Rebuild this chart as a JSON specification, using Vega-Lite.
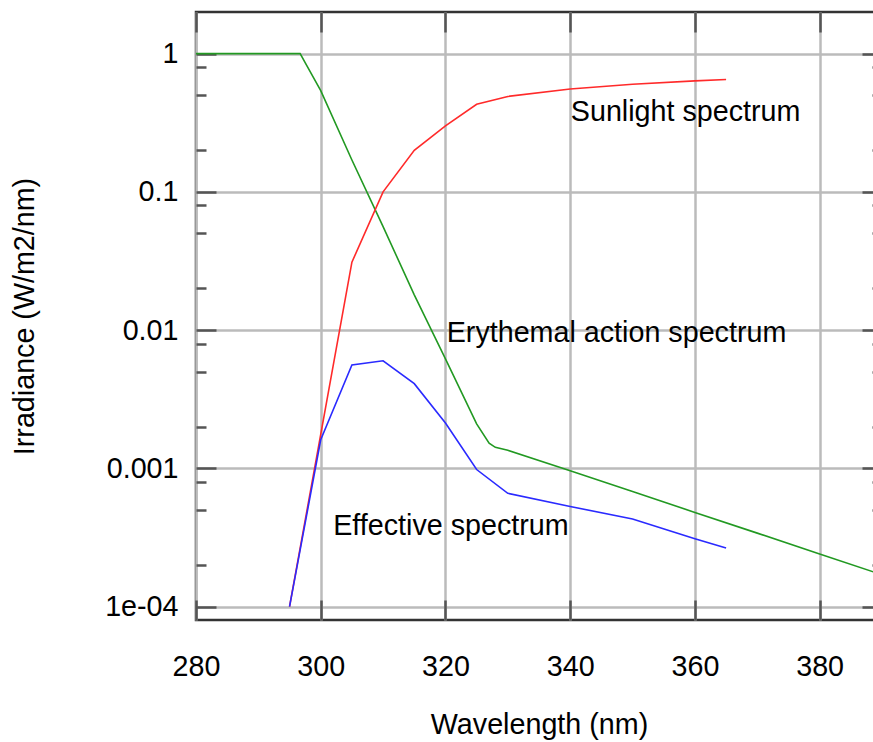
{
  "$schema": "https://vega.github.io/schema/vega-lite/v6.json",
  "width": 686,
  "height": 608,
  "autosize": {"type": "none"},
  "padding": {"left": 196, "top": 12, "right": -9, "bottom": 122},
  "background": "white",
  "config": {
    "view": {"stroke": "#333333", "strokeWidth": 2.5},
    "font": "Liberation Sans",
    "axis": {
      "labelFont": "Liberation Sans",
      "titleFont": "Liberation Sans",
      "labelFontSize": 28.7,
      "titleFontSize": 28.7,
      "labelColor": "#000000",
      "titleColor": "#000000",
      "titleFontWeight": "normal",
      "gridColor": "#bbbbbb",
      "gridWidth": 2.5,
      "gridOpacity": 1,
      "tickColor": "#555555",
      "tickWidth": 2.5,
      "domain": false,
      "labelFlush": false,
      "labelOverlap": false
    }
  },
  "datasets": {
    "curves": [
      {"series": "Erythemal", "wl": 280, "val": 1},
      {"series": "Erythemal", "wl": 296.7, "val": 1},
      {"series": "Erythemal", "wl": 297.5, "val": 0.86},
      {"series": "Erythemal", "wl": 300, "val": 0.54},
      {"series": "Erythemal", "wl": 305, "val": 0.17},
      {"series": "Erythemal", "wl": 310, "val": 0.056},
      {"series": "Erythemal", "wl": 315, "val": 0.018},
      {"series": "Erythemal", "wl": 320, "val": 0.0062},
      {"series": "Erythemal", "wl": 325, "val": 0.0021},
      {"series": "Erythemal", "wl": 327, "val": 0.00152},
      {"series": "Erythemal", "wl": 328, "val": 0.00142},
      {"series": "Erythemal", "wl": 330, "val": 0.00135},
      {"series": "Erythemal", "wl": 340, "val": 0.00096},
      {"series": "Erythemal", "wl": 350, "val": 0.00068},
      {"series": "Erythemal", "wl": 360, "val": 0.00048},
      {"series": "Erythemal", "wl": 370, "val": 0.00034},
      {"series": "Erythemal", "wl": 380, "val": 0.00024},
      {"series": "Erythemal", "wl": 390, "val": 0.00017},
      {"series": "Sunlight", "wl": 295, "val": 0.0001},
      {"series": "Sunlight", "wl": 300, "val": 0.00176},
      {"series": "Sunlight", "wl": 305, "val": 0.031},
      {"series": "Sunlight", "wl": 310, "val": 0.1},
      {"series": "Sunlight", "wl": 315, "val": 0.2},
      {"series": "Sunlight", "wl": 320, "val": 0.3},
      {"series": "Sunlight", "wl": 325, "val": 0.43},
      {"series": "Sunlight", "wl": 330, "val": 0.49},
      {"series": "Sunlight", "wl": 340, "val": 0.555},
      {"series": "Sunlight", "wl": 350, "val": 0.6},
      {"series": "Sunlight", "wl": 360, "val": 0.635},
      {"series": "Sunlight", "wl": 365, "val": 0.65},
      {"series": "Effective", "wl": 295, "val": 0.0001},
      {"series": "Effective", "wl": 300, "val": 0.00161},
      {"series": "Effective", "wl": 305, "val": 0.0056},
      {"series": "Effective", "wl": 310, "val": 0.006},
      {"series": "Effective", "wl": 315, "val": 0.0041},
      {"series": "Effective", "wl": 320, "val": 0.00213},
      {"series": "Effective", "wl": 325, "val": 0.00098},
      {"series": "Effective", "wl": 330, "val": 0.00066},
      {"series": "Effective", "wl": 340, "val": 0.00053},
      {"series": "Effective", "wl": 350, "val": 0.00043},
      {"series": "Effective", "wl": 360, "val": 0.00031},
      {"series": "Effective", "wl": 365, "val": 0.000265}
    ],
    "labels": [
      {"label": "Sunlight spectrum", "wl": 340.1, "val": 0.38},
      {"label": "Erythemal action spectrum", "wl": 320.2, "val": 0.0095},
      {"label": "Effective spectrum", "wl": 302.0, "val": 0.00038}
    ]
  },
  "layer": [
    {
      "data": {"name": "curves"},
      "mark": {"type": "line", "strokeWidth": 1.6, "clip": true},
      "encoding": {
        "x": {
          "field": "wl", "type": "quantitative",
          "scale": {"domain": [280, 390], "nice": false, "zero": false},
          "axis": {"orient": "bottom", "values": [280, 300, 320, 340, 360, 380], "tickSize": -20, "labelPadding": 52, "title": "Wavelength (nm)", "titlePadding": 30, "grid": true}
        },
        "y": {
          "field": "val", "type": "quantitative",
          "scale": {"type": "log", "domain": [0.00008, 2], "nice": false},
          "axis": {"orient": "left", "values": [0.0001, 0.001, 0.01, 0.1, 1], "tickSize": -20, "labelPadding": 38,
            "labelExpr": "datum.value < 0.0005 ? '1e-04' : datum.value < 0.005 ? '0.001' : datum.value < 0.05 ? '0.01' : datum.value < 0.5 ? '0.1' : '1'",
            "title": "Irradiance (W/m2/nm)", "titlePadding": 65, "grid": true}
        },
        "color": {
          "field": "series", "type": "nominal",
          "scale": {"domain": ["Sunlight", "Erythemal", "Effective"], "range": ["#ff2a2a", "#229922", "#2a2aff"]},
          "legend": null
        }
      }
    },
    {
      "data": {"name": "labels"},
      "mark": {"type": "text", "align": "left", "baseline": "middle", "font": "Liberation Sans", "fontSize": 28.7, "color": "#000000"},
      "encoding": {
        "x": {
          "field": "wl", "type": "quantitative",
          "scale": {"domain": [280, 390], "nice": false, "zero": false},
          "axis": {"orient": "top", "values": [280, 300, 320, 340, 360, 380], "tickSize": -20, "labels": false, "title": null, "grid": false}
        },
        "y": {
          "field": "val", "type": "quantitative",
          "scale": {"type": "log", "domain": [0.00008, 2], "nice": false},
          "axis": {"orient": "right", "values": [0.0001, 0.001, 0.01, 0.1, 1], "tickSize": -20, "labels": false, "title": null, "grid": false}
        },
        "text": {"field": "label", "type": "nominal"}
      }
    },
    {
      "data": {"name": "labels"},
      "mark": {"type": "point", "opacity": 0},
      "encoding": {
        "x": {
          "field": "wl", "type": "quantitative",
          "scale": {"domain": [280, 390], "nice": false, "zero": false},
          "axis": null
        },
        "y": {
          "field": "val", "type": "quantitative",
          "scale": {"type": "log", "domain": [0.00008, 2], "nice": false},
          "axis": {"orient": "left", "values": [0.0002, 0.0005, 0.0008, 0.002, 0.005, 0.008, 0.02, 0.05, 0.08, 0.2, 0.5, 0.8], "tickSize": -10, "labels": false, "title": null, "grid": false}
        }
      }
    },
    {
      "data": {"name": "labels"},
      "mark": {"type": "point", "opacity": 0},
      "encoding": {
        "x": {
          "field": "wl", "type": "quantitative",
          "scale": {"domain": [280, 390], "nice": false, "zero": false},
          "axis": null
        },
        "y": {
          "field": "val", "type": "quantitative",
          "scale": {"type": "log", "domain": [0.00008, 2], "nice": false},
          "axis": {"orient": "right", "values": [0.0002, 0.0005, 0.0008, 0.002, 0.005, 0.008, 0.02, 0.05, 0.08, 0.2, 0.5, 0.8], "tickSize": -10, "labels": false, "title": null, "grid": false}
        }
      }
    }
  ],
  "resolve": {"axis": {"x": "independent", "y": "independent"}}
}
